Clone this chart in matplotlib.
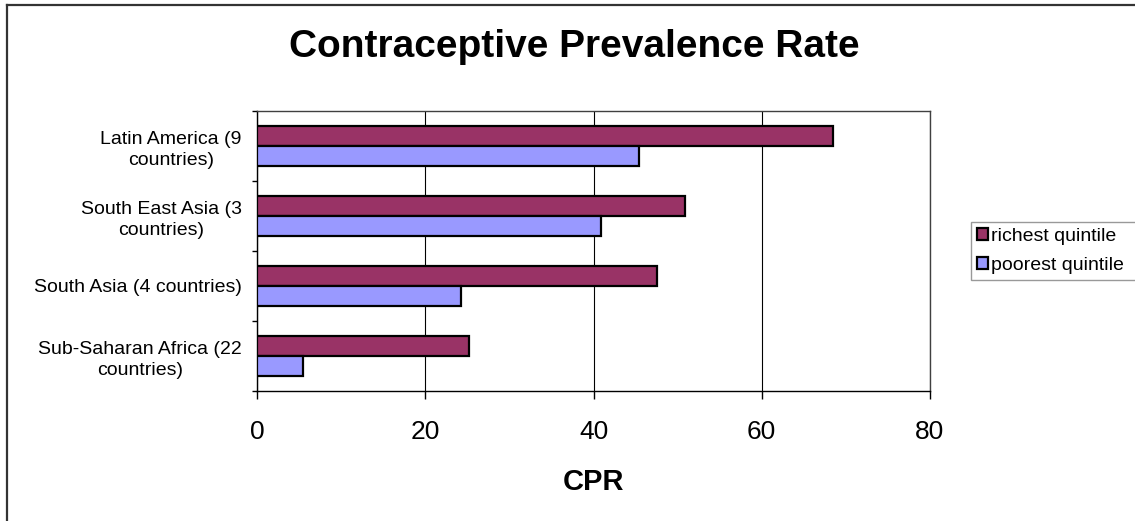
import matplotlib
matplotlib.use("Agg")
import matplotlib.pyplot as plt
from matplotlib.lines import Line2D
import numpy as np

# ─── Data ─────────────────────────────────────────────────────────────────────
regions = [
    "Sub-Saharan Africa (22\ncountries)",
    "South Asia (4 countries)",
    "South East Asia (3\ncountries)",
    "Latin America (9\ncountries)",
]
richest = [25.2, 47.5, 50.9, 68.5]
poorest = [5.5, 24.2, 40.9, 45.4]
x_ticks = [0, 20, 40, 60, 80]

RICH_COLOR = "#993366"
POOR_COLOR = "#9999FF"

plt.rcParams["font.family"] = ["Liberation Sans", "DejaVu Sans"]

W, H = 1135, 521
fig = plt.figure(figsize=(W / 100, H / 100), dpi=100)
ax = fig.add_axes([257 / W, 1 - 391 / H, (930 - 257) / W, (391 - 110.7) / H])

# ─── Bars ─────────────────────────────────────────────────────────────────────
pos = np.arange(len(regions))
bh = 0.2885
ax.barh(pos + bh / 2, richest, height=bh, color=RICH_COLOR,
        edgecolor="black", linewidth=1.6, label="richest quintile", zorder=3)
ax.barh(pos - bh / 2, poorest, height=bh, color=POOR_COLOR,
        edgecolor="black", linewidth=1.6, label="poorest quintile", zorder=3)

ax.set_xlim(0, 80)
ax.set_ylim(-0.5, len(regions) - 0.5)

# x axis
ax.set_xticks(x_ticks)
ax.set_xticklabels([str(t) for t in x_ticks], fontsize=19)
ax.tick_params(axis="x", direction="out", length=5.8, width=1, pad=15)
ax.xaxis.grid(True, color="black", linewidth=0.8, zorder=0)
ax.set_axisbelow(True)

# y axis: ticks between categories, labels at category centres
ax.set_yticks(np.arange(-0.5, len(regions), 1.0))
ax.set_yticklabels([])
ax.tick_params(axis="y", which="major", direction="out", length=3.8, width=1)
ax.set_yticks(pos, minor=True)
ax.set_yticklabels(regions, minor=True, fontsize=14, linespacing=1.3,
                   multialignment="center")
ax.tick_params(axis="y", which="minor", length=0, pad=11)

for side in ("left", "bottom"):
    ax.spines[side].set_color("black")
    ax.spines[side].set_linewidth(1)
for side in ("top", "right"):
    ax.spines[side].set_color("#404040")
    ax.spines[side].set_linewidth(1)

# ─── Titles ───────────────────────────────────────────────────────────────────
fig.text(574 / W, 1 - 57 / H, "Contraceptive Prevalence Rate",
         ha="center", va="baseline", fontsize=28, fontweight="bold")
fig.text(593 / W, 1 - 490 / H, "CPR",
         ha="center", va="baseline", fontsize=21, fontweight="bold")

# ─── Legend ───────────────────────────────────────────────────────────────────
leg = fig.legend(loc="upper left",
                 bbox_to_anchor=(970.7 / W, 1 - 222 / H, (1145 - 970.7) / W, 0),
                 mode="expand", fontsize=14, frameon=True, fancybox=False,
                 handlelength=0.6, handleheight=0.6, handletextpad=0.15,
                 borderpad=0.3, labelspacing=0.62, borderaxespad=0)
leg.get_frame().set_edgecolor("#808080")
leg.get_frame().set_linewidth(1)
for h in leg.legend_handles:
    h.set_linewidth(1.6)

# ─── Outer chart frame ────────────────────────────────────────────────────────
fig.add_artist(Line2D([7 / W, 7 / W], [0, 1 - 5 / H], color="#333333", linewidth=1.6))
fig.add_artist(Line2D([7 / W, 1], [1 - 5 / H, 1 - 5 / H], color="#333333", linewidth=1.6))

fig.savefig("out.png", dpi=100)
